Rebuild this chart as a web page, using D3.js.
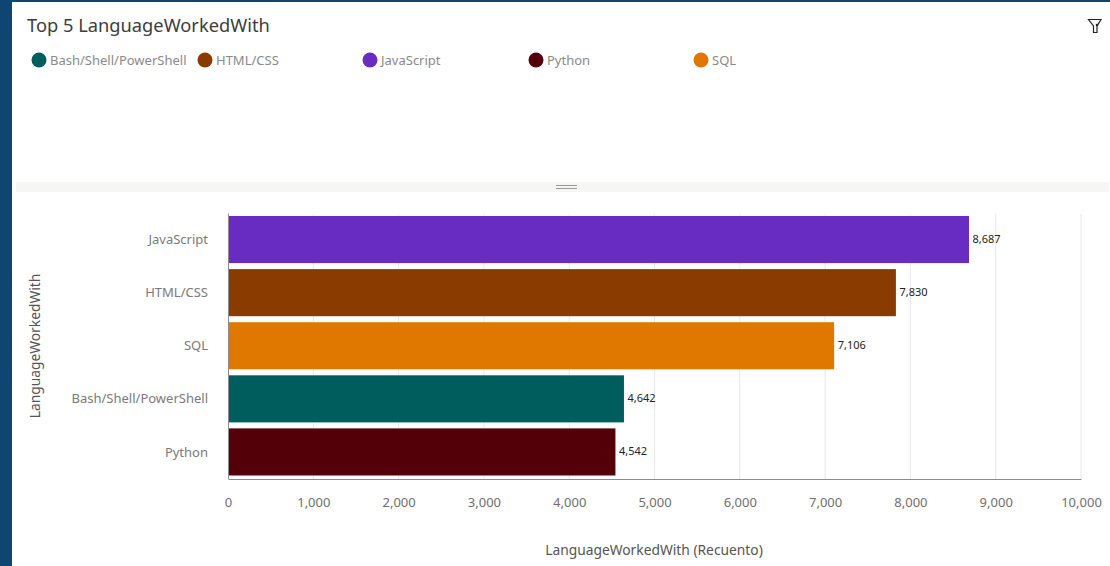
<!DOCTYPE html>
<html>
<head>
<meta charset="utf-8">
<script src="https://cdn.jsdelivr.net/npm/d3@7"></script>
<style>
html, body { margin: 0; padding: 0; background: #fff; overflow: hidden; }
text { font-family: "Noto Sans", sans-serif; }
</style>
</head>
<body>
<div id="chart"></div>
<script>
const width = 1110, height = 566;

const languages = ['JavaScript', 'HTML/CSS', 'SQL', 'Bash/Shell/PowerShell', 'Python'];
const counts = [8687, 7830, 7106, 4642, 4542];
const barColors = ['#682cc2', '#8a3b00', '#e07800', '#005d5d', '#540008'];

const legendNames = ['Bash/Shell/PowerShell', 'HTML/CSS', 'JavaScript', 'Python', 'SQL'];
const legendColors = ['#005d5d', '#8a3b00', '#682cc2', '#540008', '#e07800'];
const legendX = [39, 205, 370, 536, 701];

const xTicks = [0, 1000, 2000, 3000, 4000, 5000, 6000, 7000, 8000, 9000, 10000];

const svg = d3.select('#chart').append('svg').attr('width', width).attr('height', height).style('display', 'block');

// page frame
svg.append('rect').attr('width', 12).attr('height', height).attr('fill', '#0f4571');
svg.append('rect').attr('width', width).attr('height', 2).attr('fill', '#0f4571');

svg.append('text').attr('x', 27).attr('y', 32).attr('font-size', 18.3).attr('fill', '#3d3d3d').text('Top 5 LanguageWorkedWith');

// filter icon
svg.append('path')
	.attr('d', 'M1088.5 19.5 H1101 L1097 26 V32.5 H1093.5 V26 Z')
	.attr('fill', 'none').attr('stroke', '#222').attr('stroke-width', 1.2);
svg.append('circle').attr('cx', 1097).attr('cy', 25).attr('r', 1.3).attr('fill', '#222');

// legend
const legend = svg.append('g').selectAll('g')
	.data(legendNames)
	.enter()
	.append('g')
	.attr('transform', (d, i) => `translate(${legendX[i]},60)`);
legend.append('circle').attr('r', 7.5).attr('fill', (d, i) => legendColors[i]);
legend.append('text').attr('x', 11).attr('y', 4.5).attr('font-size', 13).attr('fill', '#8a8a8a').text(d => d);

// divider with drag handle
svg.append('rect').attr('x', 16).attr('y', 182).attr('width', 1093).attr('height', 10).attr('fill', '#f6f6f5');
svg.append('path').attr('d', 'M556 185.5 H577 M556 188.5 H577').attr('stroke', '#9a9a9a').attr('stroke-width', 1.2);

const x = d3.scaleLinear().domain([0, 10000]).range([228, 1081]);
const y = d3.scaleBand().domain(languages).range([213, 478.5]).paddingInner(6 / 53).paddingOuter(3 / 53);

// grid
svg.append('g').selectAll('line')
	.data(xTicks.slice(1))
	.enter()
	.append('line')
	.attr('x1', d => x(d)).attr('x2', d => x(d))
	.attr('y1', 214).attr('y2', 479)
	.attr('stroke', '#e8e8e8');

// bars
svg.append('g').selectAll('rect')
	.data(languages)
	.enter()
	.append('rect')
	.attr('x', x(0))
	.attr('y', d => y(d))
	.attr('width', (d, i) => x(counts[i]) - x(0))
	.attr('height', y.bandwidth())
	.attr('fill', (d, i) => barColors[i]);

// value labels
svg.append('g').selectAll('text')
	.data(languages)
	.enter()
	.append('text')
	.attr('x', (d, i) => x(counts[i]) + 3.5)
	.attr('y', d => y(d) + y.bandwidth() / 2 + 3.5)
	.attr('font-size', 11)
	.attr('fill', '#222')
	.text((d, i) => d3.format(',')(counts[i]));

// axes
const xAxis = svg.append('g').attr('transform', 'translate(0,479)')
	.call(d3.axisBottom(x).tickValues(xTicks).tickFormat(d3.format(',')).tickSize(0).tickPadding(19));
xAxis.select('.domain').attr('stroke', '#8d8d8d');
xAxis.selectAll('text').attr('font-size', 13).attr('fill', '#6f6f6f').style('font-family', '"Noto Sans", sans-serif');

const yAxis = svg.append('g').attr('transform', 'translate(228,0)')
	.call(d3.axisLeft(y).tickSize(0).tickPadding(20));
yAxis.select('.domain').attr('stroke', '#8d8d8d');
yAxis.selectAll('text').attr('font-size', 13).attr('fill', '#7a7a7a').attr('dy', '0.35em').style('font-family', '"Noto Sans", sans-serif');

svg.append('text').attr('x', 654).attr('y', 555).attr('text-anchor', 'middle').attr('font-size', 13.8).attr('fill', '#555').text('LanguageWorkedWith (Recuento)');
svg.append('text').attr('transform', 'translate(40,346) rotate(-90)').attr('text-anchor', 'middle').attr('font-size', 13.8).attr('fill', '#555').text('LanguageWorkedWith');
</script>
</body>
</html>
